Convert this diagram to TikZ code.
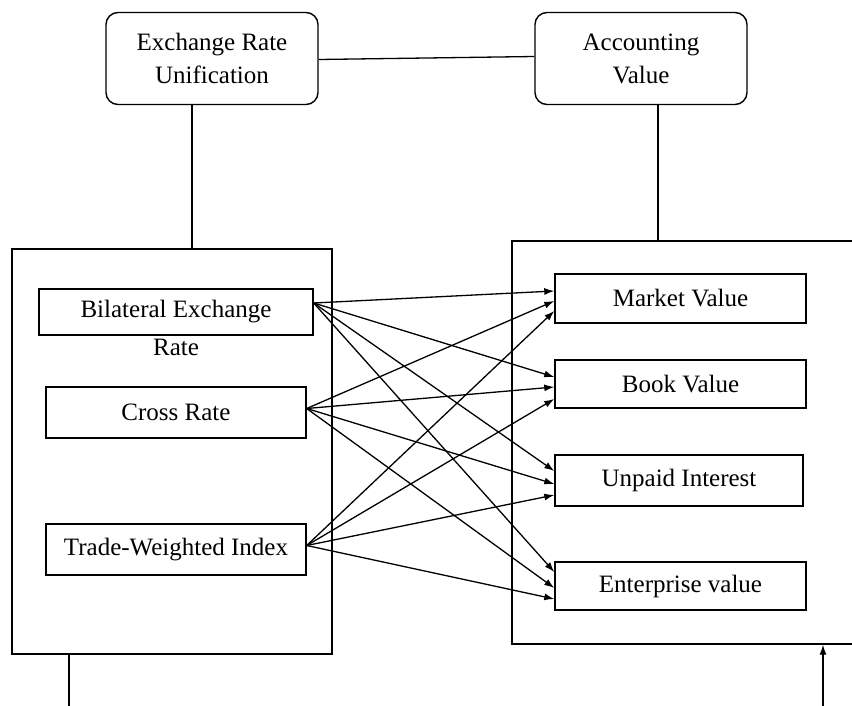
\documentclass[tikz,border=0pt]{standalone}
\usepackage{fontspec}
\setmainfont{Liberation Serif}
\newfontfamily\timesx{Liberation Serif}
\usetikzlibrary{arrows.meta}
\begin{document}
\begin{tikzpicture}[x=1pt,y=-1pt,
  every node/.style={font=\timesx\fontsize{25}{33}\selectfont, inner sep=0pt},
  rbox/.style={draw, line width=1.4pt, rounded corners=12pt, align=center},
  sbox/.style={draw, line width=1.4pt},
  conn/.style={line width=1.3pt},
  arr/.style={line width=1.3pt, -{Latex[length=10pt,width=7pt]}}]
\useasboundingbox (0,0) rectangle (852,706);
\begin{scope}
\clip (0,0) rectangle (852,706);
% top boxes
\node[rbox, minimum width=212, minimum height=92] (eru) at (212,58.5) {Exchange Rate\\Unification};
\node[rbox, minimum width=212, minimum height=92] (av) at (641,58.5) {Accounting\\Value};
% big containers
\node[sbox, minimum width=320, minimum height=405] (lbig) at (172,451.5) {};
\node[sbox, minimum width=348, minimum height=403] (rbig) at (686,442.5) {};
% left inner boxes
\node[sbox, minimum width=274, minimum height=46] (bil) at (176,312) {Bilateral Exchange};
\node (brate) at (176,347) {Rate};
\node[sbox, minimum width=260, minimum height=51] (cr) at (176,412.5) {Cross Rate};
\node[sbox, minimum width=260, minimum height=51] (twi) at (176,549.5) {Trade-Weighted Index};
% right inner boxes
\node[sbox, minimum width=251, minimum height=49] (mv) at (680.5,298.5) {Market Value};
\node[sbox, minimum width=251, minimum height=48] (bv) at (680.5,384) {Book Value};
\node[sbox, minimum width=248, minimum height=51] (ui) at (679,480.5) {Unpaid Interest};
\node[sbox, minimum width=251, minimum height=48] (ev) at (680.5,586) {Enterprise value};
% top connectors
\draw[conn] ([yshift=-1pt]eru.east) -- ([yshift=2pt]av.west);
\draw[conn] ([xshift=-20pt]eru.south) -- ([xshift=-20pt]eru.south |- lbig.north);
\draw[conn] ([xshift=17pt]av.south) -- ([xshift=17pt]av.south |- rbig.north);
% start points
\coordinate (s1) at ([yshift=9pt]bil.east);
\coordinate (s2) at ([yshift=4pt]cr.east);
\coordinate (s3) at ([yshift=4pt]twi.east);
% arrows
\draw[arr] (s1) -- ([yshift=7.5pt]mv.west);
\draw[arr] (s2) -- ([yshift=-2.5pt]mv.west);
\draw[arr] (s3) -- ([yshift=-12.5pt]mv.west);
\draw[arr] (s1) -- ([yshift=7pt]bv.west);
\draw[arr] (s2) -- ([yshift=-3pt]bv.west);
\draw[arr] (s3) -- ([yshift=-15pt]bv.west);
\draw[arr] (s1) -- ([yshift=9.5pt]ui.west);
\draw[arr] (s2) -- ([yshift=-3.5pt]ui.west);
\draw[arr] (s3) -- ([yshift=-14.5pt]ui.west);
\draw[arr] (s1) -- ([yshift=14pt]ev.west);
\draw[arr] (s2) -- ([yshift=-2pt]ev.west);
\draw[arr] (s3) -- ([yshift=-13pt]ev.west);
% bottom connectors
\coordinate (botL) at (69,710);
\coordinate (botR) at (823,710);
\draw[conn] (botL |- lbig.south) -- (botL);
\draw[arr] (botR) -- (botR |- rbig.south);
\end{scope}
\end{tikzpicture}
\end{document}
